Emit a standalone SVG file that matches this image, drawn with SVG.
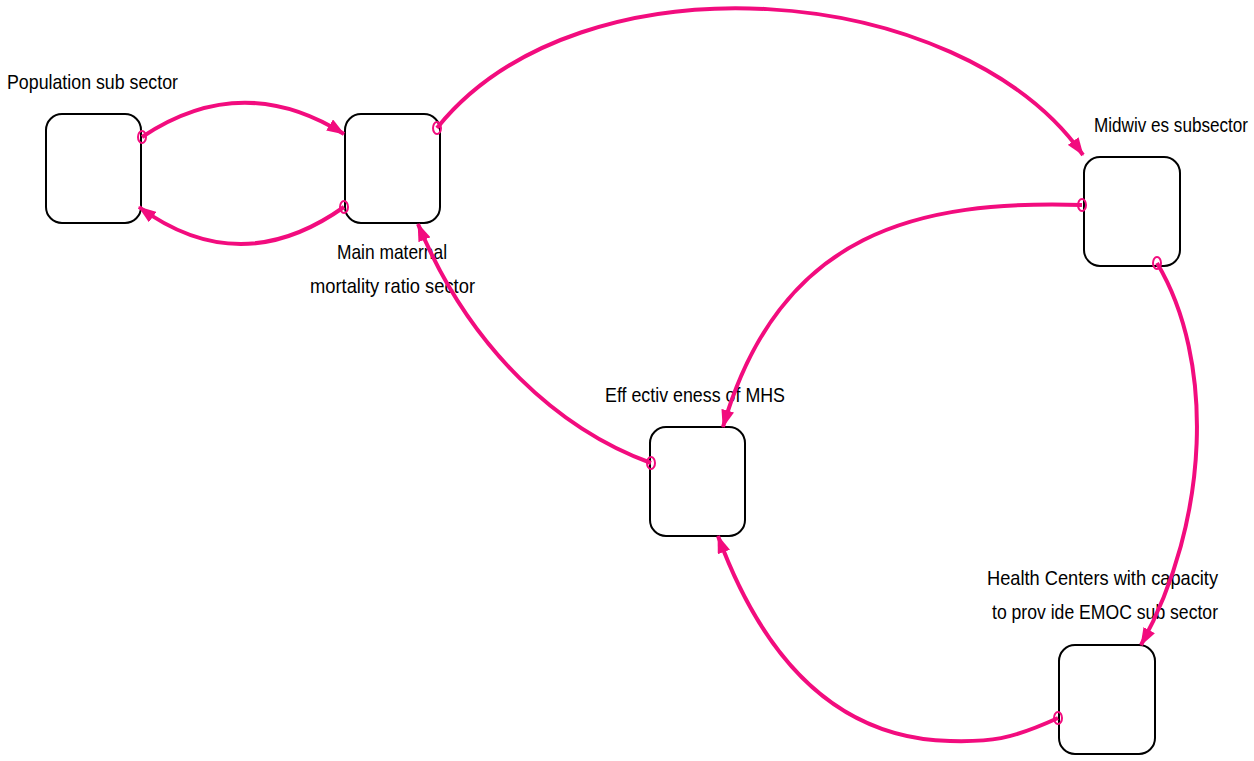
<svg xmlns="http://www.w3.org/2000/svg" width="1254" height="761" viewBox="0 0 1254 761">
<defs>
<style>
.node{fill:#fff;stroke:#000;stroke-width:2}
.lbl{font-family:"Liberation Sans",Arial,sans-serif;font-size:21px;fill:#000}
.con{fill:none;stroke:#f20c7e;stroke-width:4}
.org{fill:none;stroke:#f20c7e;stroke-width:2}
</style>
<marker id="ah" viewBox="0 0 18 13" refX="17" refY="6.5" markerWidth="18" markerHeight="13" markerUnits="userSpaceOnUse" orient="auto">
<path d="M0,0 L18,6.5 L0,13 Z" fill="#f20c7e"/>
</marker>
</defs>
<rect width="1254" height="761" fill="#fff"/>
<g id="population">
<rect class="node" x="46" y="114" width="95" height="109" rx="16"/>
<text class="lbl" x="7" y="89" textLength="171" lengthAdjust="spacingAndGlyphs">Population sub sector</text>
</g>
<g id="mmr">
<rect class="node" x="345" y="114" width="95" height="109" rx="16"/>
<text class="lbl" x="337" y="259" textLength="110" lengthAdjust="spacingAndGlyphs">Main maternal</text>
<text class="lbl" x="310" y="293" textLength="165" lengthAdjust="spacingAndGlyphs">mortality  ratio sector</text>
</g>
<g id="midwives">
<rect class="node" x="1084" y="157" width="96" height="109" rx="16"/>
<text class="lbl" x="1094" y="132" textLength="154" lengthAdjust="spacingAndGlyphs">Midwiv es subsector</text>
</g>
<g id="effectiveness">
<rect class="node" x="650" y="427" width="95" height="109" rx="16"/>
<text class="lbl" x="605" y="402" textLength="180" lengthAdjust="spacingAndGlyphs">Eff ectiv eness of MHS</text>
</g>
<g id="health">
<rect class="node" x="1059" y="645" width="96" height="109" rx="16"/>
<text class="lbl" x="987" y="585" textLength="231" lengthAdjust="spacingAndGlyphs">Health  Centers with capacity</text>
<text class="lbl" x="992" y="619" textLength="226" lengthAdjust="spacingAndGlyphs">to prov ide EMOC sub sector</text>
</g>
<g id="connectors">
<path class="con" marker-end="url(#ah)" d="M142,137 Q242,70 344,134"/>
<path class="con" marker-end="url(#ah)" d="M344,207 Q240,281 139,207"/>
<path class="con" marker-end="url(#ah)" d="M437,128 C580,-50 960,-20 1083,155"/>
<path class="con" marker-end="url(#ah)" d="M1082,205 C920,200 780,230 723,427"/>
<path class="con" marker-end="url(#ah)" d="M1157,263 C1215,360 1210,520 1141,645"/>
<path class="con" marker-end="url(#ah)" d="M1058,718 C1010,740 990,742 950,741 C830,738 760,650 718,536"/>
<path class="con" marker-end="url(#ah)" d="M651,463 C560,430 470,350 418,224"/>
<ellipse class="org" cx="142" cy="137" rx="4" ry="6"/>
<ellipse class="org" cx="344" cy="207" rx="4" ry="6"/>
<ellipse class="org" cx="437" cy="128" rx="4" ry="6"/>
<ellipse class="org" cx="1082" cy="205" rx="4" ry="6"/>
<ellipse class="org" cx="1157" cy="263" rx="4" ry="6"/>
<ellipse class="org" cx="1058" cy="718" rx="4" ry="6"/>
<ellipse class="org" cx="651" cy="463" rx="4" ry="6"/>
</g>
</svg>
